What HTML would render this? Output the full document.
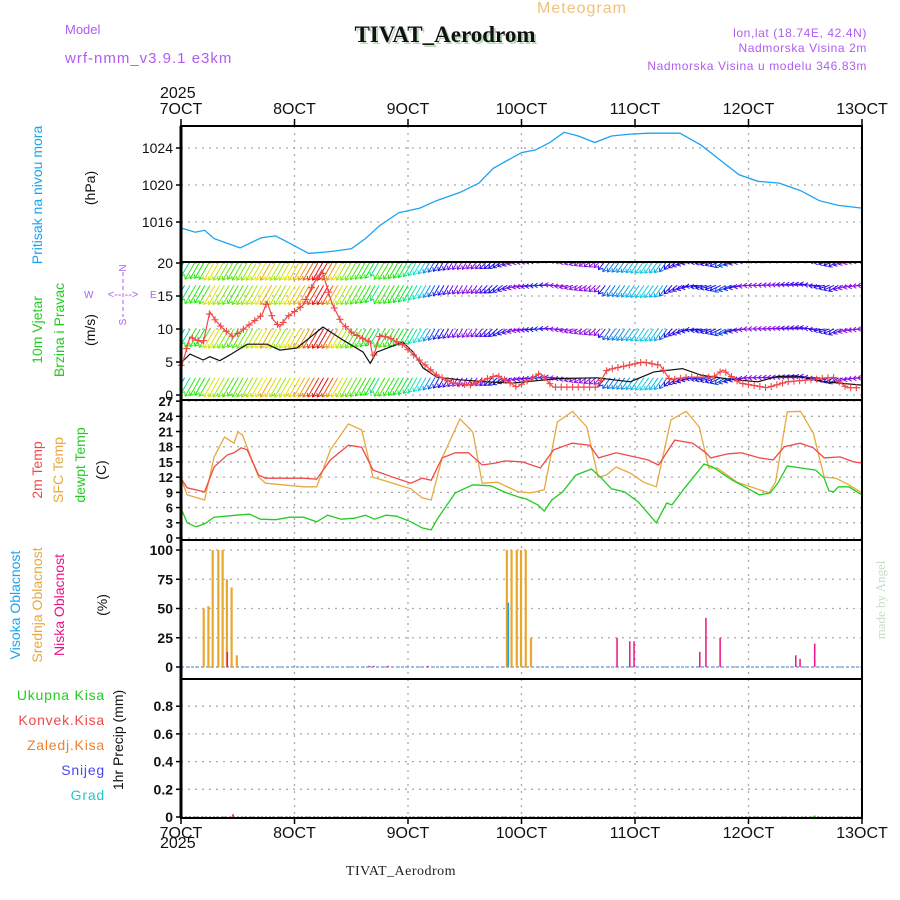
<!DOCTYPE html>
<html><head><meta charset="utf-8"><style>
html,body{margin:0;padding:0;background:#fff;width:900px;height:900px;overflow:hidden}
svg{display:block;font-family:"Liberation Sans",sans-serif}
</style></head><body>
<svg id="c" width="900" height="900" viewBox="0 0 900 900" xmlns="http://www.w3.org/2000/svg">
<defs>
<clipPath id="clipWind"><rect x="181" y="262" width="681" height="138"/></clipPath>
</defs>
<g>
<text x="582" y="13" font-size="16" fill="#f0c27a" text-anchor="middle" letter-spacing="1">Meteogram</text>
<text x="65" y="34" font-size="13" fill="#b05cf0">Model</text>
<text x="447" y="44" font-size="23" font-weight="bold" font-family="Liberation Serif, serif" fill="#b8d8b8" text-anchor="middle">TIVAT_Aerodrom</text>
<text x="445" y="42" font-size="23" font-weight="bold" font-family="Liberation Serif, serif" fill="#111" text-anchor="middle">TIVAT_Aerodrom</text>
<text x="65" y="63" font-size="15" fill="#b05cf0" letter-spacing="1">wrf-nmm_v3.9.1 e3km</text>
<text x="867" y="37" font-size="12" fill="#b05cf0" text-anchor="end" letter-spacing="0.6">lon,lat (18.74E, 42.4N)</text>
<text x="867" y="52" font-size="12" fill="#b05cf0" text-anchor="end" letter-spacing="0.6">Nadmorska Visina 2m</text>
<text x="867" y="70" font-size="12" fill="#b05cf0" text-anchor="end" letter-spacing="0.6">Nadmorska Visina u modelu 346.83m</text>
<text x="160" y="98" font-size="16" fill="#111">2025</text>
<text x="160" y="848" font-size="16" fill="#111">2025</text>
<text x="401" y="875" font-size="14" font-family="Liberation Serif, serif" fill="#222" text-anchor="middle" letter-spacing="0.5">TIVAT_Aerodrom</text>
<text transform="translate(885,600) rotate(-90)" font-size="13" font-family="Liberation Serif, serif" fill="#c8dcc8" text-anchor="middle">made by Angel</text>
</g>
<g>
<text transform="translate(42,195) rotate(-90)" font-size="14" fill="#1aa3f0" text-anchor="middle">Pritisak na nivou mora</text>
<text transform="translate(95,188) rotate(-90)" font-size="14" fill="#111" text-anchor="middle">(hPa)</text>
<text transform="translate(42,330) rotate(-90)" font-size="14" fill="#22cc22" text-anchor="middle">10m Vjetar</text>
<text transform="translate(64,330) rotate(-90)" font-size="14" fill="#22cc22" text-anchor="middle">Brzina i Pravac</text>
<text transform="translate(95,330) rotate(-90)" font-size="14" fill="#111" text-anchor="middle">(m/s)</text>
<g fill="#b05cf0" font-size="10">
<text x="84" y="298">W</text><text x="150" y="298">E</text>
<text transform="translate(126,268) rotate(-90)" text-anchor="middle">N</text>
<text transform="translate(126,322) rotate(-90)" text-anchor="middle">S</text>
<text x="123" y="298" text-anchor="middle" font-size="11">&lt;-- --&gt;</text>
<line x1="123" y1="272" x2="123" y2="317" stroke="#b05cf0" stroke-dasharray="4,3"/>
</g>
<text transform="translate(42,470) rotate(-90)" font-size="14" fill="#f04848" text-anchor="middle">2m Temp</text>
<text transform="translate(63,470) rotate(-90)" font-size="14" fill="#e8a840" text-anchor="middle">SFC Temp</text>
<text transform="translate(85,465) rotate(-90)" font-size="14" fill="#22cc22" text-anchor="middle">dewpt Temp</text>
<text transform="translate(106,470) rotate(-90)" font-size="14" fill="#111" text-anchor="middle">(C)</text>
<text transform="translate(20,605) rotate(-90)" font-size="14" fill="#1aa3f0" text-anchor="middle">Visoka Oblacnost</text>
<text transform="translate(42,605) rotate(-90)" font-size="14" fill="#e8a840" text-anchor="middle">Srednja Oblacnost</text>
<text transform="translate(64,605) rotate(-90)" font-size="14" fill="#ee1188" text-anchor="middle">Niska Oblacnost</text>
<text transform="translate(107,605) rotate(-90)" font-size="14" fill="#111" text-anchor="middle">(%)</text>
<g font-size="14" text-anchor="end" letter-spacing="0.8">
<text x="105" y="700" fill="#22cc22">Ukupna Kisa</text>
<text x="105" y="725" fill="#f04848">Konvek.Kisa</text>
<text x="105" y="750" fill="#f08030">Zaledj.Kisa</text>
<text x="105" y="775" fill="#4848f0">Snijeg</text>
<text x="105" y="800" fill="#22c8c8">Grad</text>
</g>
<text transform="translate(123,740) rotate(-90)" font-size="14" fill="#111" text-anchor="middle">1hr Precip (mm)</text>
</g>
<g id="grid"></g>
<g id="marks"></g>
<g id="frame"></g>
</svg>
<script>
// ---- data ----
var dayLabels = ["7OCT","8OCT","9OCT","10OCT","11OCT","12OCT","13OCT"];
var presTimes = [0,3,5,7,12.5,17,20,23,27,31.5,36,39,42,46,50.5,54,59,63,66,72,75,78,81,84,87.5,91,95,99,105.5,110,114,118,122,126.5,131,135,139,144];
var presVals = [1015.35,1014.9,1015.1,1014.2,1013.2,1014.3,1014.5,1013.7,1012.6,1012.8,1013.1,1014.2,1015.6,1017.0,1017.5,1018.3,1019.2,1020.2,1021.8,1023.5,1023.8,1024.6,1025.7,1025.3,1024.6,1025.3,1025.5,1025.6,1025.6,1024.3,1022.7,1021.1,1020.4,1020.2,1019.4,1018.3,1017.8,1017.5];
var presTicks = [1016,1020,1024];
var windTimes = [0.2,1.9,4.7,6.1,7.2,8.7,11,12.9,17.1,18.2,19.5,20.9,22.4,25.8,27.9,29.8,31.9,34,36.2,40,40.6,42.1,44.2,46.9,49.9,54.1,57.5,61.1,66.8,71,75.9,78.7,88,90.1,97.7,101.3,103.4,107,112.5,114.6,118.2,123.9,128.1,133,137.9,140.8,143.6];
var windSpeed = [4.5,8.8,7.9,12.6,11.4,10.2,8.8,9.8,12.1,14.1,11.4,10.3,11.8,13.6,16.7,18.9,13.9,10.9,9.4,8.0,5.6,9.1,8.6,7.6,5.6,3.0,1.8,1.5,3.0,1.2,3.3,1.2,1.2,3.8,5.0,4.5,2.3,2.7,2.7,3.8,1.8,1.1,2.0,2.3,2.7,1.1,1.1];
var gustTimes = [0.2,1.9,4.7,6.1,8.2,10.4,14,18.2,20.9,24.5,30,34.3,38.5,40,41.4,46.9,49.1,51.2,54.1,59,64.7,70,80,88,95,100,106,110,116,122,126,130,136,144];
var gustSpeed = [5.0,6.2,5.3,5.8,5.2,6.1,7.7,7.7,6.8,7.1,10.3,8.3,6.5,4.8,6.5,8.0,6.5,4.1,2.7,2.3,2.0,1.8,2.5,2.6,2.0,3.5,4.0,3.0,2.4,2.0,2.8,2.9,2.0,1.5];
var windDirTimes = [0,6,12,18,24,30,36,42,48,54,60,66,72,78,84,90,96,102,108,114,120,126,132,138,144];
var windDir = [30,30,30,30,30,30,30,30,30,30,30,50,80,95,60,35,35,35,85,60,90,95,100,60,90];
var windTicks = [0,5,10,15,20];
var windRows = [20.3,16.6,10,2.6];
var tempTimes2m = [0,1.3,5,7,9.8,11.2,12.7,14,16.4,17.9,25.9,28.7,31.6,35.4,38.2,40.6,44.8,48.6,51,52.9,55.2,58,60.8,63.7,66.6,68.5,72.2,76,78.8,82.7,86.4,88.3,92,95.9,98.7,101,104.4,108.2,111,112,115.7,118.5,122.3,125.2,127.6,130.9,133.7,136,139.4,142.2,144];
var temp2m = [11.8,9.9,9.1,14.0,16.4,16.8,17.8,17.4,12.4,11.8,11.8,11.6,15.4,18.3,17.9,13.4,12.0,10.8,11.8,11.4,15.8,16.8,16.8,14.4,14.8,15.2,15.0,13.8,17.4,18.7,18.3,15.8,16.8,16.0,15.4,14.4,19.3,18.7,16.8,15.8,16.6,16.8,15.8,15.4,18.0,18.7,17.8,15.8,16.0,15.0,14.8];
var tempSfcTimes = [0,1.3,5,7,9.2,11.2,12,13,16.4,17.9,25.9,28.7,31.6,35.4,38.2,40.6,44.8,48.6,51,52.9,55.2,59,61.7,63.7,66.9,71.3,74,76.8,79.6,82.8,85.8,88.2,89.9,92,95,97.8,100.5,103.6,106.8,109.6,111.6,113.4,117.6,124.3,125.7,128.2,131,133.7,136,138.5,141.2,144];
var tempSfc = [11.8,8.5,7.5,16.0,19.9,18.7,20.9,20.3,12.0,10.8,10.1,10.1,17.4,22.5,21.3,12.0,10.8,9.7,7.9,7.5,15.8,23.5,20.9,10.8,11.0,9.1,8.9,9.5,22.9,25.0,21.9,12.0,12.4,14.0,12.8,11.0,10.1,23.3,25.0,21.9,13.8,13.8,11.0,8.9,11.0,24.9,25.0,20.7,12.0,11.8,10.5,8.9];
var dewTimes = [0,1.3,3.2,5,7,11.7,14.5,16.8,20,23,25.9,28.7,31,33.9,36.7,39,40.9,43.3,45.6,48.6,51,52.9,54.3,58,61.7,65.5,68.3,71.3,73,75.5,76.8,78.4,80.7,83.5,86.8,88.7,91,93.8,96.7,100.5,102.7,103.8,106.2,110.6,112.4,116.6,120.4,122.3,124.6,126.2,128.2,134.2,136,137,138,139,141.2,144];
var dewVals = [5.9,3.0,2.2,2.8,4.1,4.5,4.7,3.7,3.6,4.1,4.1,3.2,4.5,3.7,3.9,4.5,3.7,4.5,4.3,3.2,2.0,1.6,3.9,8.9,10.5,10.3,9.1,8.1,7.7,6.5,5.3,7.5,9.1,12.4,13.6,12.0,9.7,9.1,7.1,3.0,6.9,6.5,9.5,14.6,14.0,11.4,9.5,8.5,8.9,10.8,14.2,13.4,11.8,9.3,9.1,10.1,10.1,8.5];
var tempTicks = [0,3,6,9,12,15,18,21,24,27];
var midCloudTimes = [4.8,5.8,6.7,7.9,8.8,9.7,10.7,11.8,68.9,69.9,71,71.9,72.9,74];
var midCloud = [50,52,100,100,100,75,68,10,100,100,100,100,100,25];
var highCloudTimes = [69.2];
var highCloud = [55];
var lowCloudTimes = [9.8,39.8,40.8,43.8,52.2,92.2,94.9,95.8,109.7,111,114,130,130.9,134];
var lowCloud = [13,1,1,1,1,25,22,22,13,42,25,10,7,20];
var cloudTicks = [0,25,50,75,100];
var convRainTimes = [11];
var convRain = [0.02];
var totalRainTimes = [134];
var totalRain = [0.01];
var precipTicks = [0,0.2,0.4,0.6,0.8];

// ---- scales ----
var X0=181, X1=862, TMAX=144;
function xS(t){return X0+(X1-X0)*t/TMAX;}
function yP(p){return 148+(1024-p)*9.25;}
function yW(s){return 395-s*6.6;}
function yT(v){return 538-v*5.07;}
function yC(v){return 667-v*1.17;}
function yR(v){return 817-v*138.5;}
var NS="http://www.w3.org/2000/svg";
function el(tag,attrs,parent){var e=document.createElementNS(NS,tag);for(var k in attrs)e.setAttribute(k,attrs[k]);parent.appendChild(e);return e;}
var grid=document.getElementById('grid'), marks=document.getElementById('marks'), frame=document.getElementById('frame');
var panels=[[126,262],[262,400],[400,540],[540,679],[679,818]];

for(var d=1;d<6;d++){
  var gl=el('line',{x1:xS(d*24),x2:xS(d*24),y1:126,y2:818,stroke:'#aaa','stroke-dasharray':'2,5','stroke-width':1.3},grid);
  
  
}
function hTicks(ticks,yf,fmt,size,bold){
  ticks.forEach(function(v){
    var y=yf(v);
    var g=el('line',{x1:X0,x2:X1,y1:y,y2:y,stroke:'#aaa','stroke-dasharray':'2,5','stroke-width':1.3},grid);
    
    
    el('line',{x1:X0-5,x2:X0,y1:y,y2:y,stroke:'#000','stroke-width':1.5},frame);
    var t=el('text',{x:X0-8,y:y+5,'font-size':size,'text-anchor':'end',fill:'#111','font-weight':bold?'bold':'normal'},frame);
    t.textContent=fmt(v);
    
    
  });
}
hTicks(presTicks,yP,function(v){return v;},14,false);
hTicks(windTicks,yW,function(v){return v;},14,false);
hTicks(tempTicks,yT,function(v){return v;},13,true);
hTicks(cloudTicks,yC,function(v){return v;},14,true);
hTicks(precipTicks,yR,function(v){return v===0?'0':v.toFixed(1);},14,true);

dayLabels.forEach(function(s,i){
  var x=xS(i*24);
  var a=el('text',{x:x,y:114,'font-size':16,'text-anchor':'middle',fill:'#111'},frame);a.textContent=s;
  
  
  var b=el('text',{x:x,y:838,'font-size':16,'text-anchor':'middle',fill:'#111'},frame);b.textContent=s;
  
  
  el('line',{x1:x,x2:x,y1:119,y2:126,stroke:'#000','stroke-width':1.5},frame);
  el('line',{x1:x,x2:x,y1:818,y2:824,stroke:'#000','stroke-width':1.5},frame);
});
panels.forEach(function(p){
  var r=el('rect',{x:X0,y:p[0],width:X1-X0,height:p[1]-p[0],fill:'none',stroke:'#000','stroke-width':2},frame);
  
  
});
el('line',{x1:X0,x2:X0,y1:126,y2:818,stroke:'#000','stroke-width':3},frame);

function poly(ts,vs,yf,color,name,w){
  var pts=ts.map(function(t,i){return xS(t).toFixed(1)+','+yf(vs[i]).toFixed(1);}).join(' ');
  var p=el('polyline',{points:pts,fill:'none',stroke:color,'stroke-width':w||1.3},marks);
  
  
  return p;
}
poly(presTimes,presVals,yP,'#1aa3f0','pressure-line');
poly(tempSfcTimes,tempSfc,yT,'#e8a840','sfc-temp-line');
poly(tempTimes2m,temp2m,yT,'#f04848','temp-2m-line');
poly(dewTimes,dewVals,yT,'#22cc22','dewpoint-line');

function interp(ts,vs,t){
  if(t<=ts[0])return vs[0];
  for(var i=1;i<ts.length;i++){if(t<=ts[i]){var f=(t-ts[i-1])/(ts[i]-ts[i-1]);return vs[i-1]+f*(vs[i]-vs[i-1]);}}
  return vs[vs.length-1];
}
var hueS=[1.5,3,5,8,12,15,18], hueH=[275,235,185,120,60,30,0];
function windColor(s){return 'hsl('+interp(hueS,hueH,s).toFixed(0)+',90%,48%)';}
var wg=el('g',{'clip-path':'url(#clipWind)'},marks);


windRows.forEach(function(rowV){
  for(var t=0;t<=TMAX;t+=1){
    var s=interp(windTimes,windSpeed,t), dir=interp(windDirTimes,windDir,t)*Math.PI/180;
    var L=Math.min(22,7+1.6*s);
    var dx=-Math.sin(dir)*L, dy=Math.cos(dir)*L;
    var x=xS(t)+Math.abs(dx)*0.5, y=yW(rowV);
    var hx=x+dx, hy=y+dy, c=windColor(s);
    var ux=dx/L, uy=dy/L, h=4;
    var d='M'+x.toFixed(1)+','+y.toFixed(1)+'L'+hx.toFixed(1)+','+hy.toFixed(1)+
      'M'+(hx-h*(ux*0.8-uy*0.6)).toFixed(1)+','+(hy-h*(uy*0.8+ux*0.6)).toFixed(1)+'L'+hx.toFixed(1)+','+hy.toFixed(1)+
      'L'+(hx-h*(ux*0.8+uy*0.6)).toFixed(1)+','+(hy-h*(uy*0.8-ux*0.6)).toFixed(1);
    var a=el('path',{d:d,fill:'none',stroke:c,'stroke-width':1},wg);
    
    
  }
});
poly(gustTimes,gustSpeed,yW,'#111','wind-black-line',1.2);
poly(windTimes,windSpeed,yW,'#f04848','wind-speed-line',1.2);
for(var th=0;th<=TMAX;th+=1.2){
  var mx=xS(th),my=yW(interp(windTimes,windSpeed,th));
  var m=el('path',{d:'M'+(mx-3.5)+','+my+'h7M'+mx+','+(my-3.5)+'v7',stroke:'#f04848','stroke-width':1.1},marks);
  
  
}

function bars(ts,vs,yf,base,color,name,w){
  ts.forEach(function(t,i){
    var y=yf(vs[i]);
    var b=el('rect',{x:xS(t)-w/2,y:y,width:w,height:Math.max(0.8,base-y),fill:color},marks);
    
    
  });
}
el('line',{x1:X0,x2:X1,y1:667,y2:667,stroke:'#7aa8e0','stroke-width':1.5,'stroke-dasharray':'3,2'},marks);
bars(midCloudTimes,midCloud,yC,667,'#e8a830','mid-cloud-bar',2.2);
bars(highCloudTimes,highCloud,yC,667,'#1aa3f0','high-cloud-bar',1.6);
bars(lowCloudTimes,lowCloud,yC,667,'#ee1188','low-cloud-bar',1.5);
el('line',{x1:X0,x2:X1,y1:817,y2:817,stroke:'#555','stroke-width':1,'stroke-dasharray':'2,2'},marks);
bars(convRainTimes,convRain,yR,817,'#f04848','convective-rain-bar',2);
bars(totalRainTimes,totalRain,yR,817,'#22cc22','total-rain-bar',2);
</script>
</body></html>
